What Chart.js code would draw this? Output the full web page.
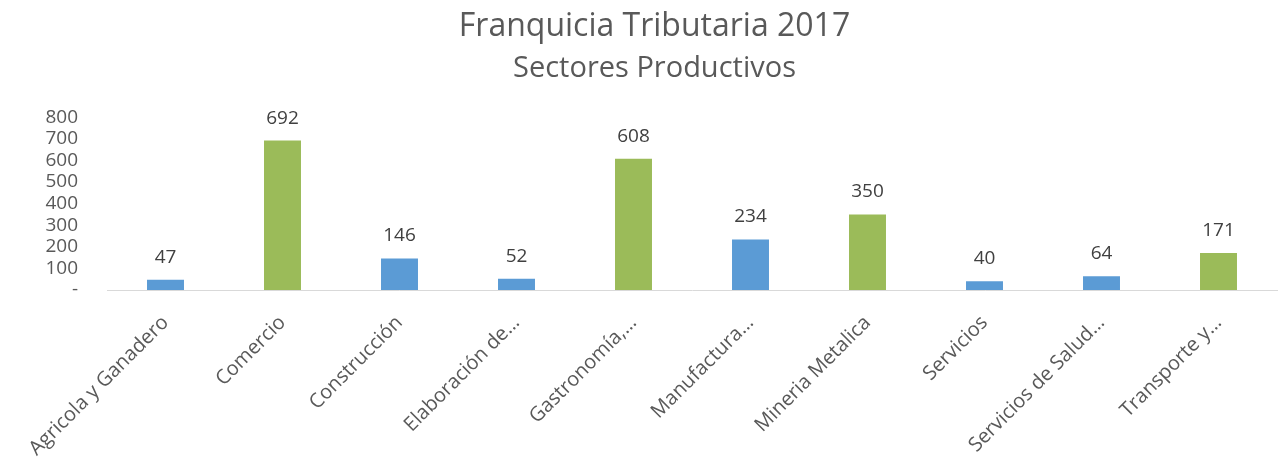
<!DOCTYPE html>
<html>
<head>
<meta charset="utf-8">
<script src="https://cdn.jsdelivr.net/npm/chart.js@4.4.0/dist/chart.umd.min.js"></script>
<style>
  html, body { margin: 0; padding: 0; background: #fff; }
</style>
</head>
<body>
<canvas id="chart" width="1281" height="464"></canvas>
<script>
const sectors = [
  "Agricola y Ganadero", "Comercio", "Construcción", "Elaboración de…",
  "Gastronomía,…", "Manufactura…", "Mineria Metalica", "Servicios",
  "Servicios de Salud…", "Transporte y…"
];
const companies = [47, 692, 146, 52, 608, 234, 350, 40, 64, 171];
// sectors drawn in green in the original, the rest are blue
const greenSectors = ["Comercio", "Gastronomía,…", "Mineria Metalica", "Transporte y…"];
const yTicks = [0, 100, 200, 300, 400, 500, 600, 700, 800];

const FONT = "'Open Sans', sans-serif";
const TEXT = '#595959';

// draws the value above each bar
const barValues = {
  id: 'barValues',
  afterDatasetsDraw(chart) {
    const ctx = chart.ctx;
    const meta = chart.getDatasetMeta(0);
    ctx.save();
    ctx.font = "19px " + FONT;
    ctx.fillStyle = '#404040';
    ctx.textAlign = 'center';
    ctx.textBaseline = 'alphabetic';
    meta.data.forEach((bar, i) => {
      ctx.fillText(companies[i], bar.x, bar.y - 17);
    });
    ctx.restore();
  }
};

new Chart(document.getElementById('chart'), {
  type: 'bar',
  data: {
    labels: sectors,
    datasets: [{
      data: companies,
      backgroundColor: sectors.map(s => greenSectors.includes(s) ? '#9BBB59' : '#5B9BD5'),
      categoryPercentage: 1,
      barPercentage: 0.316
    }]
  },
  options: {
    responsive: false,
    animation: false,
    devicePixelRatio: 1,
    layout: { padding: { left: 32, right: 4, top: 0, bottom: 0 } },
    plugins: {
      legend: { display: false },
      tooltip: { enabled: false },
      title: {
        display: true,
        text: 'Franquicia Tributaria 2017',
        color: TEXT,
        font: { family: FONT, size: 32, weight: 'normal' },
        padding: { top: 8, bottom: 0 }
      },
      subtitle: {
        display: true,
        text: 'Sectores Productivos',
        color: TEXT,
        font: { family: FONT, size: 29, weight: 'normal' },
        padding: { top: 5, bottom: 31 }
      }
    },
    scales: {
      x: {
        grid: { display: false },
        border: { color: '#d9d9d9', width: 1 },
        ticks: {
          color: TEXT,
          font: { family: FONT, size: 20 },
          minRotation: 45,
          maxRotation: 45,
          autoSkip: false,
          padding: 13
        },
        afterFit(scale) { scale.height = 174; }
      },
      y: {
        min: 0,
        max: 800,
        grid: { display: false },
        border: { display: false },
        afterBuildTicks(scale) { scale.ticks = yTicks.map(v => ({ value: v })); },
        ticks: {
          color: TEXT,
          font: { family: FONT, size: 19 },
          autoSkip: false,
          padding: 21,
          callback: v => v === 0 ? '-' : v
        },
        afterFit(scale) { scale.width = 75; }
      }
    }
  },
  plugins: [barValues]
});
</script>
</body>
</html>
